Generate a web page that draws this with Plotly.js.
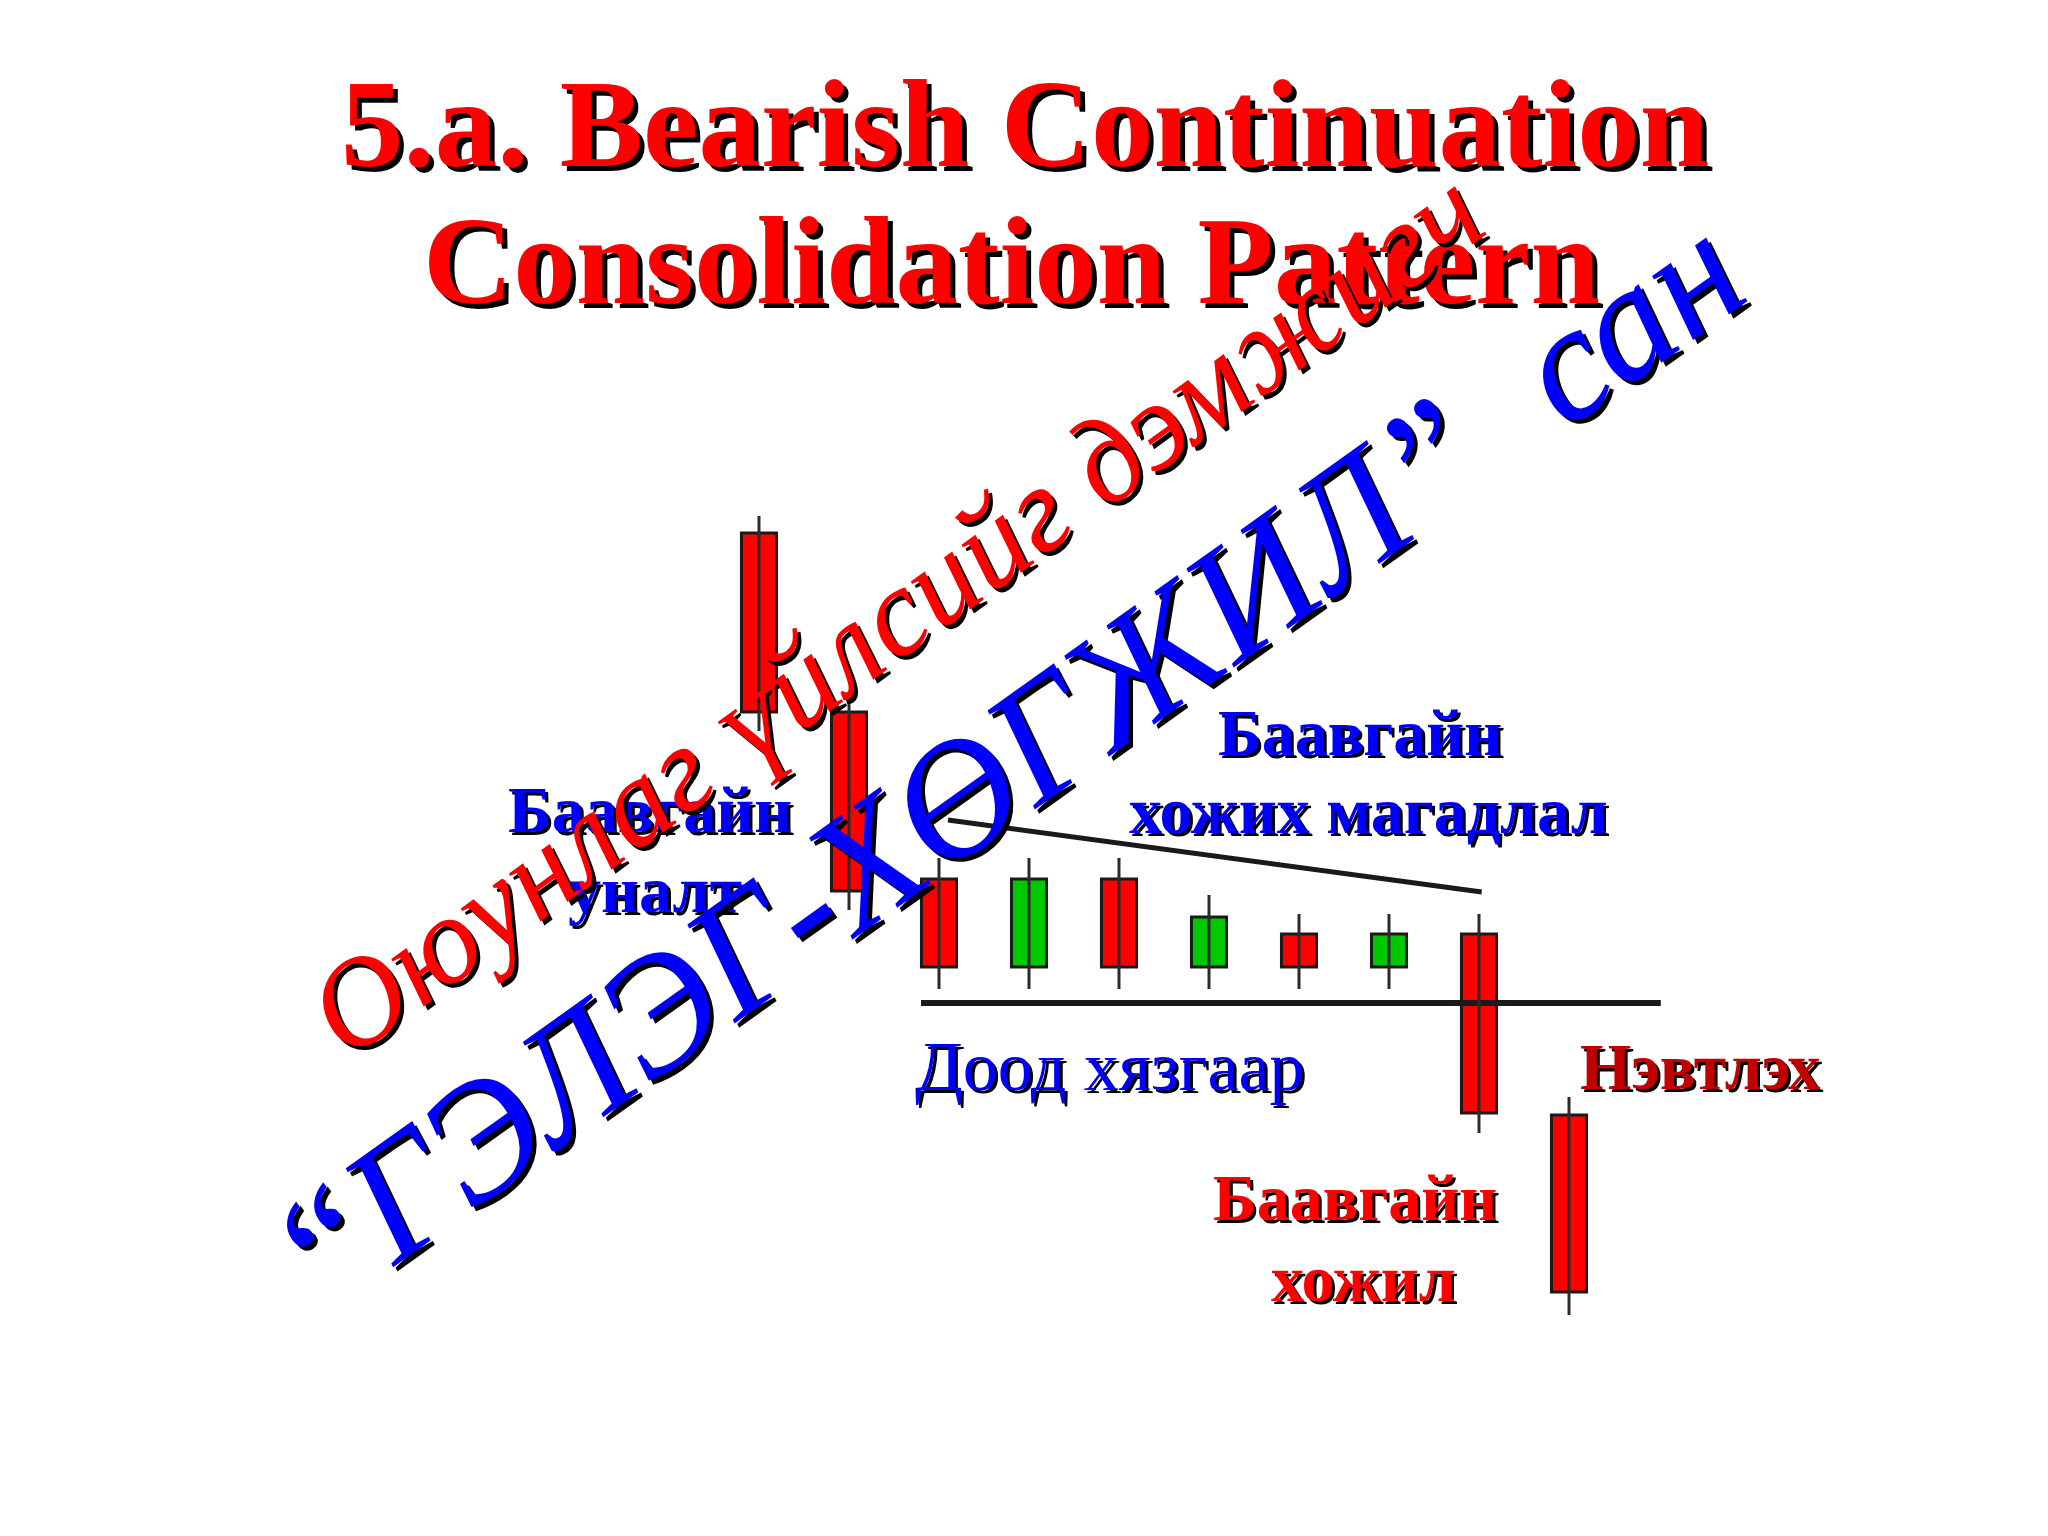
<!DOCTYPE html>
<html>
<head>
<meta charset="utf-8">
<script src="https://cdn.plot.ly/plotly-3.0.1.min.js"></script>
<style>html,body{margin:0;padding:0;background:#fff;}#chart{width:2048px;height:1536px;}</style>
</head>
<body>
<div id="chart"></div>
<script>
// ---- data ----
const candleX = [1, 2, 3, 4, 5, 6, 7, 8, 9, 10];
const openP  = [100.3, 82.4, 65.7, 56.9, 65.7, 56.9, 60.2, 56.9, 60.2, 42.1];
const highP  = [102.0, 83.9, 67.8, 67.8, 67.8, 64.1, 62.2, 62.2, 62.2, 43.9];
const lowP   = [80.5, 62.6, 54.7, 54.7, 54.7, 54.7, 54.7, 54.7, 40.3, 22.1];
const closeP = [82.4, 64.5, 56.9, 65.7, 56.9, 61.9, 56.9, 60.2, 42.3, 24.4];

const resistanceX = [3.1, 9.03];
const resistanceY = [71.6, 64.4];
const supportX = [2.8, 11.02];
const supportY = [53.3, 53.3];

const titleLines = ['5.a. Bearish Continuation', 'Consolidation Pattern'];
const fallLabel = ['Баавгайн', 'уналт'];
const probLabel = ['Баавгайн', 'хожих магадлал'];
const supportLabel = 'Доод хязгаар';
const breakLabel = 'Нэвтлэх';
const winLabel = ['Баавгайн', 'хожил'];
const watermarkRed = 'Оюунлаг үйлсийг дэмжигч';
const watermarkBlue = '“ГЭЛЭГ-ХӨГЖИЛ”  сан';

// ---- styles ----
const RED = '#FF0000', GREEN = '#00C800', BLUE = '#0000FF', DARKRED = '#C00000';
const W = 2048, H = 1536;

// wicks
const wx = [], wy = [];
candleX.forEach((x, i) => { wx.push(x, x, null); wy.push(lowP[i], highP[i], null); });

const bodyBase = candleX.map((_, i) => Math.min(openP[i], closeP[i]));
const bodyLen = candleX.map((_, i) => Math.abs(closeP[i] - openP[i]));
const bodyColor = candleX.map((_, i) => closeP[i] >= openP[i] ? GREEN : RED);

const traces = [
  {type: 'scatter', mode: 'lines', x: resistanceX, y: resistanceY,
   line: {color: '#1a1a1a', width: 5}, hoverinfo: 'skip'},
  {type: 'scatter', mode: 'lines', x: supportX, y: supportY,
   line: {color: '#1a1a1a', width: 6}, hoverinfo: 'skip'},
  {type: 'scatter', mode: 'lines', x: wx, y: wy,
   line: {color: '#2a2a2a', width: 3}, hoverinfo: 'skip', connectgaps: false},
  {type: 'bar', x: candleX, y: bodyLen, base: bodyBase, width: 0.39,
   marker: {color: bodyColor, line: {color: '#1a1a1a', width: 3}}, hoverinfo: 'skip'}
];

const annotations = [];
function addText(text, cx, cy, size, color, o) {
  o = o || {};
  const sh = o.shadow == null ? 3 : o.shadow;
  const base = {
    text: text, xref: 'paper', yref: 'paper', xanchor: 'center', yanchor: 'middle',
    showarrow: false, textangle: o.angle || 0, borderpad: 0
  };
  const font = {family: 'Liberation Serif', size: size,
    weight: o.bold ? 'bold' : 'normal', style: o.italic ? 'italic' : 'normal'};
  if (sh > 0) {
    annotations.push(Object.assign({}, base, {
      x: (cx + sh) / W, y: 1 - (cy + sh) / H,
      font: Object.assign({}, font, {color: '#000000'})
    }));
  }
  annotations.push(Object.assign({}, base, {
    x: cx / W, y: 1 - cy / H, font: Object.assign({}, font, {color: color})
  }));
}

// title
addText(titleLines[0], 1025, 124, 125, RED, {bold: true, shadow: 5});
addText(titleLines[1], 1011, 261, 125, RED, {bold: true, shadow: 5});
// labels
addText(fallLabel[0], 650, 809, 66, BLUE, {bold: true});
addText(fallLabel[1], 655, 889, 66, BLUE, {bold: true});
addText(probLabel[0], 1360, 732, 66, BLUE, {bold: true});
addText(probLabel[1], 1368, 810, 66, BLUE, {bold: true});
addText(supportLabel, 1110, 1066, 70, BLUE, {});
addText(breakLabel, 1700, 1066, 66, DARKRED, {bold: true});
addText(winLabel[0], 1355, 1197, 66, RED, {bold: true});
addText(winLabel[1], 1363, 1278, 66, RED, {bold: true});
// watermarks
addText(watermarkRed, 895, 612, 125, RED, {italic: true, angle: -36, shadow: 4});
addText(watermarkBlue, 1005, 762, 165, BLUE, {italic: true, angle: -35.5, shadow: 5});

const layout = {
  width: W, height: H,
  margin: {l: 0, r: 0, t: 0, b: 0, pad: 0},
  paper_bgcolor: '#ffffff', plot_bgcolor: '#ffffff',
  showlegend: false,
  xaxis: {range: [-7.4333, 15.3222], visible: false, fixedrange: true},
  yaxis: {range: [0, 153.6], visible: false, fixedrange: true},
  annotations: annotations,
  bargap: 0
};

Plotly.newPlot('chart', traces, layout, {staticPlot: true, displayModeBar: false});
</script>
</body>
</html>
